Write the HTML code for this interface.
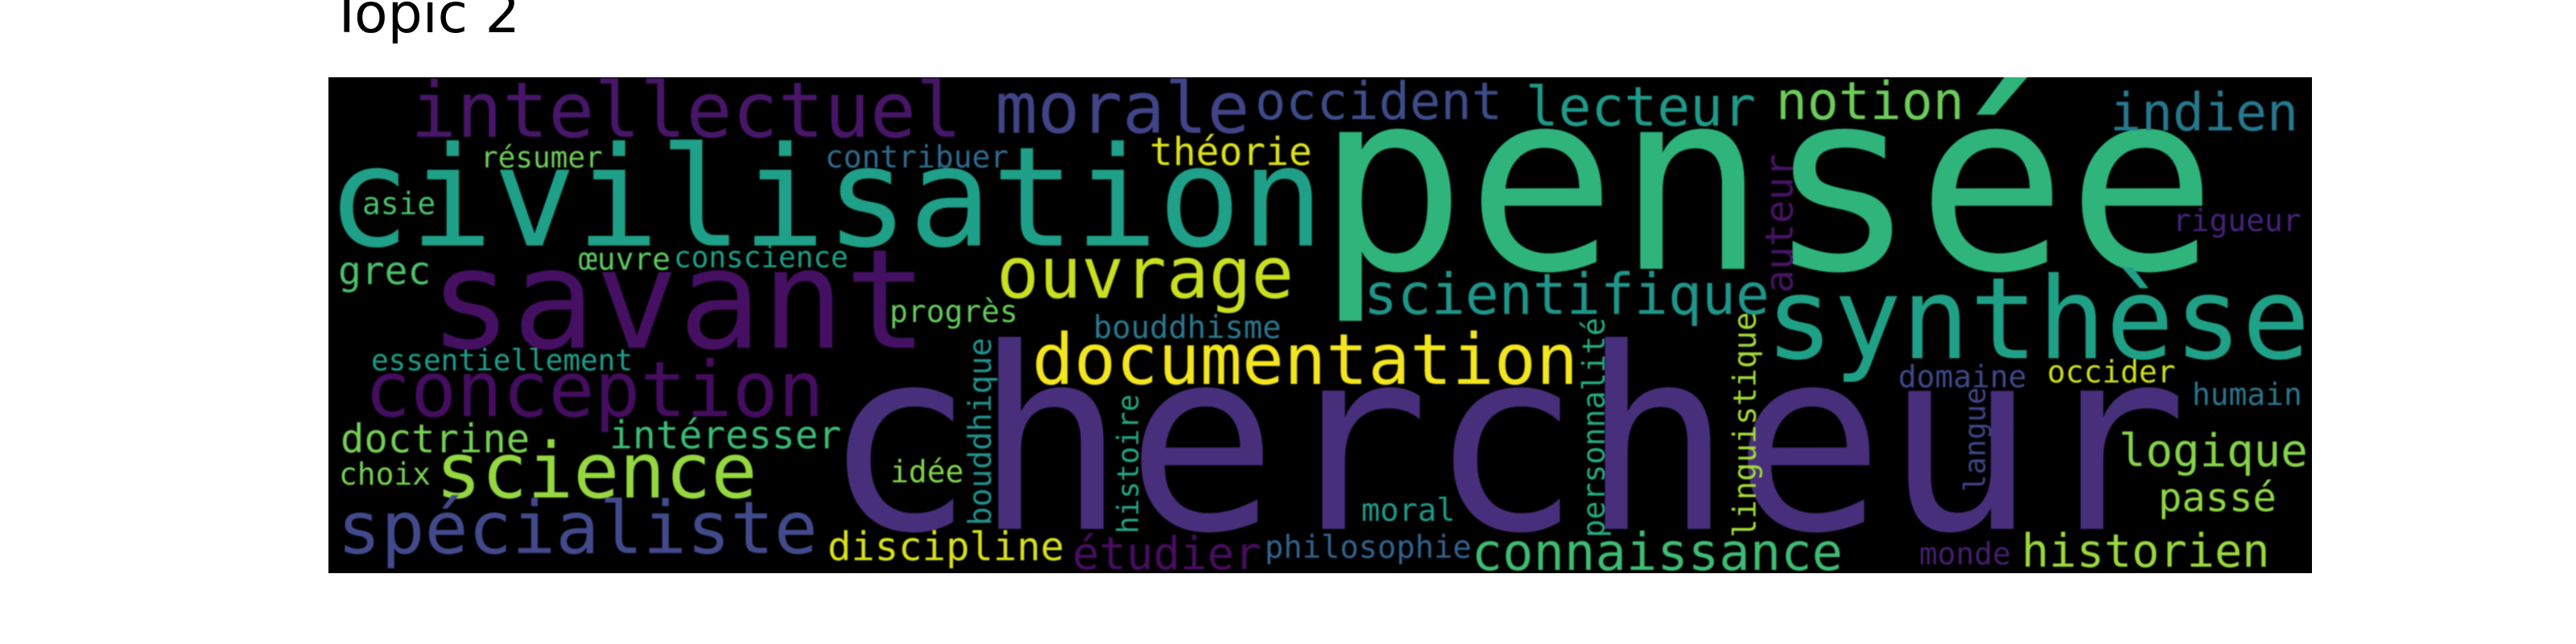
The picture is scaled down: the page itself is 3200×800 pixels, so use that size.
<!DOCTYPE html>
<html lang="fr">
<head>
<meta charset="utf-8">
<title>Topic 2</title>
<style>
html,body{margin:0;padding:0;background:#fff;width:3200px;height:800px;overflow:hidden}
svg{display:block}
#chart-title{font-family:"DejaVu Sans","Liberation Sans",sans-serif;font-size:68px;fill:#000}
#cloud text{font-family:"DejaVu Sans Mono","Liberation Mono",monospace}
</style>
</head>
<body>
<svg xmlns="http://www.w3.org/2000/svg" width="3200" height="800" viewBox="0 0 3200 800">
  <defs>
    <clipPath id="cloud-clip"><rect x="408" y="96" width="2464" height="616"/></clipPath>
  </defs>
  <rect x="0" y="0" width="3200" height="800" fill="#ffffff"/>
  <text id="chart-title" x="410" y="40">Topic 2</text>
  <rect x="408" y="96" width="2464" height="616" fill="#000000"/>
  <g clip-path="url(#cloud-clip)">
    <g id="cloud" style="filter:blur(0.8px)"></g>
  </g>
</svg>
<script>
const words = ["pensée","chercheur","civilisation","savant","synthèse","intellectuel","morale","occident","lecteur","notion","indien","rigueur","théorie","résumer","contribuer","asie","grec","œuvre","conscience","ouvrage","scientifique","auteur","progrès","bouddhisme","documentation","essentiellement","conception","doctrine","science","intéresser","choix","idée","bouddhique","histoire","spécialiste","discipline","étudier","philosophie","connaissance","moral","personnalité","linguistique","domaine","occider","langue","humain","logique","passé","historien","monde"];
const weights = [0.99,1,0.548,0.548,0.449,0.303,0.280,0.204,0.217,0.207,0.207,0.121,0.153,0.115,0.121,0.121,0.153,0.121,0.115,0.280,0.223,0.153,0.121,0.124,0.277,0.115,0.303,0.156,0.303,0.153,0.121,0.121,0.124,0.115,0.288,0.156,0.178,0.124,0.204,0.124,0.121,0.124,0.121,0.121,0.115,0.121,0.178,0.156,0.182,0.121];
const colors = ["#2fb47c","#482f7c","#1fa088","#450f62","#1fa187","#481668","#414487","#3e4c8a","#1f9a8a","#6ccd5a","#26788e","#46237a","#dde318","#6ece58","#2f6c8e","#4ac16d","#4cc26c","#5ec962","#1fa088","#c8e020","#1f968b","#471365","#65cb5e","#2a788e","#f4e61e","#1f9e89","#450d5f","#75d054","#95d840","#3bbb75","#7ad151","#84d44b","#20928c","#22a884","#434a8c","#d8e219","#470d60","#33638d","#3fbc73","#1f9a8a","#25ab82","#a5db36","#3e4989","#cde11d","#414487","#2a768e","#86d549","#90d743","#9bd93c","#461e6e"];
const placements = [[1635,334,0],[1022,657,0],[406,305,0],[533,432,0],[2193,445,0],[510,170,0],[1236,165,0],[1559,148,0],[1895,156,0],[2206,148,0],[2621,162,0],[2699,287,0],[1428,205,0],[597,208,0],[1025,208,0],[450,266,0],[420,353,0],[719,335,0],[837,332,0],[1238,370,0],[1694,390,0],[2227,364,1],[1105,400,0],[1358,420,0],[1282,477,0],[461,460,0],[453,517,0],[423,562,0],[541,618,0],[757,557,0],[421,602,0],[1106,599,0],[1231,653,1],[1414,663,1],[419,687,0],[1028,696,0],[1332,707,0],[1571,693,0],[1828,708,0],[1691,647,0],[1993,668,1],[2181,668,1],[2358,481,0],[2543,475,0],[2466,611,1],[2723,503,0],[2632,579,0],[2681,635,0],[2511,704,0],[2384,701,0]];
const MAX_FONT = 314;
const ADVANCE = 0.6;

function fontSize(weight) { return weight * MAX_FONT; }

const cloud = document.getElementById('cloud');
words.forEach(function (word, i) {
  const size = fontSize(weights[i]);
  const at = placements[i];
  const el = document.createElementNS('http://www.w3.org/2000/svg', 'text');
  
  
  el.setAttribute('font-size', size);
  el.setAttribute('fill', colors[i]);
  el.setAttribute('textLength', ADVANCE * size * word.length);
  el.setAttribute('lengthAdjust', 'spacingAndGlyphs');
  if (at[2]) {
    el.setAttribute('transform', 'translate(' + at[0] + ',' + at[1] + ') rotate(-90)');
    el.setAttribute('x', 0);
    el.setAttribute('y', 0);
  } else {
    el.setAttribute('x', at[0]);
    el.setAttribute('y', at[1]);
  }
  el.textContent = word;
  cloud.appendChild(el);
});
</script>
</body>
</html>
